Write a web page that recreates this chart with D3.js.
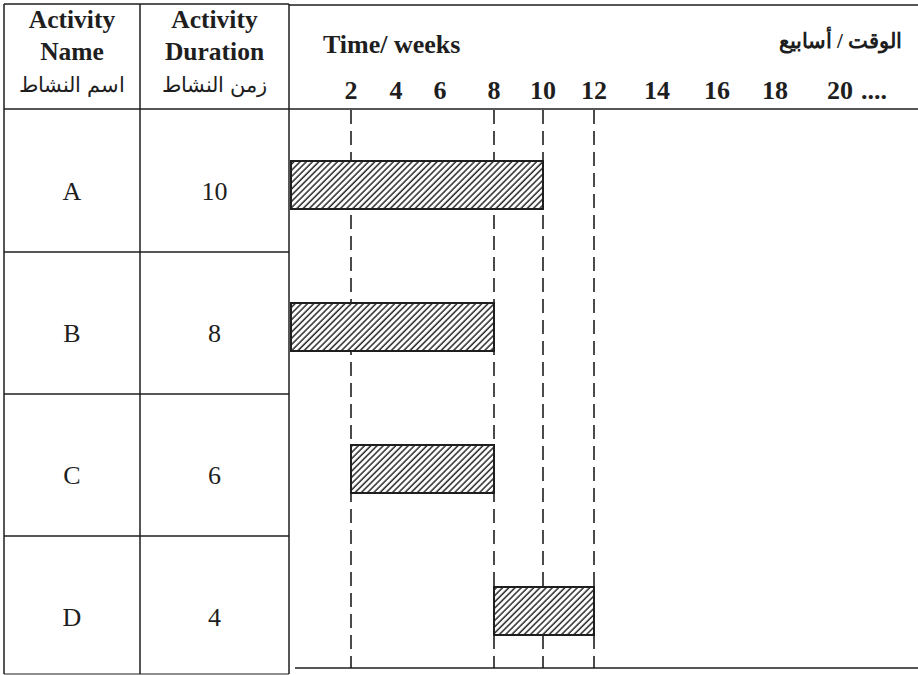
<!DOCTYPE html>
<html><head><meta charset="utf-8">
<script src="https://cdn.jsdelivr.net/npm/d3@7"></script>
<style>body{margin:0;background:#fff} svg{display:block}</style>
</head><body><svg id="c" width="918" height="675"></svg>
<script>
// ---- data ----
const activities = ["A", "B", "C", "D"];
const durations = [10, 8, 6, 4];
const starts = [0, 0, 2, 8];
const tickValues = [2, 4, 6, 8, 10, 12, 14, 16, 18, 20];
const tickLabels = ["2", "4", "6", "8", "10", "12", "14", "16", "18", "20"];
const tickSuffix = "....";
const milestones = [2, 8, 10, 12];
const headerName = ["Activity", "Name", "اسم النشاط"];
const headerDuration = ["Activity", "Duration", "زمن النشاط"];
const titleEn = "Time/ weeks";
const titleAr = "الوقت / أسابيع";

// ---- layout ----
const svg = d3.select("#c");
const ink = "#1e1e1e";
const serif = "'Liberation Serif','Times New Roman','DejaVu Serif',serif";
const tableL = 4, colDiv = 140, tableR = 289, chartL = 291, chartR = 918;
const topY = 4, headB = 109, chartBottom = 668, tableBottom = 674;

// hand-drawn week axis (polylinear)
const x = d3.scaleLinear()
  .domain([0, 2, 4, 6, 8, 10, 12, 14, 16, 18, 20])
  .range([chartL, 351, 396, 440, 494, 543, 594, 657, 717, 775, 840]);
const y = d3.scaleBand().domain(activities).range([headB + 1, 678]);

// hatch pattern
const defs = svg.append("defs");
const pat = defs.append("pattern").attr("id", "hatch")
  .attr("patternUnits", "userSpaceOnUse").attr("width", 4.4).attr("height", 4.4)
  .attr("patternTransform", "rotate(45)");
pat.append("rect").attr("width", 4.4).attr("height", 4.4).attr("fill", "#fff");
pat.append("line").attr("x1", 1).attr("y1", 0).attr("x2", 1).attr("y2", 4.4)
  .attr("stroke", "#2a2a2a").attr("stroke-width", 1.5);

// ---- table grid ----
const g = svg.append("g").attr("stroke", ink).attr("fill", "none");
g.append("line").attr("x1", tableL).attr("x2", tableR).attr("y1", topY).attr("y2", topY).attr("stroke-width", 1.6);
g.append("line").attr("x1", tableR).attr("x2", chartR).attr("y1", topY + 1).attr("y2", topY + 1).attr("stroke-width", 1.6);
g.append("line").attr("x1", tableL).attr("x2", chartR).attr("y1", headB).attr("y2", headB).attr("stroke-width", 1.6);
[tableL, colDiv, tableR].forEach(v =>
  g.append("line").attr("x1", v).attr("x2", v).attr("y1", topY).attr("y2", tableBottom).attr("stroke-width", 1.5));
activities.slice(1).forEach(a =>
  g.append("line").attr("x1", tableL).attr("x2", tableR).attr("y1", y(a)).attr("y2", y(a)).attr("stroke-width", 1.4));
g.append("line").attr("x1", tableL).attr("x2", tableR).attr("y1", tableBottom).attr("y2", tableBottom).attr("stroke-width", 1.2);
g.append("line").attr("x1", 295).attr("x2", chartR).attr("y1", chartBottom).attr("y2", chartBottom).attr("stroke-width", 1.6);

// ---- table header ----
const col1 = (tableL + colDiv) / 2, col2 = (colDiv + tableR) / 2;
[[col1, headerName], [col2, headerDuration]].forEach(([cx, lines]) => {
  lines.forEach((t, i) => {
    svg.append("text").attr("x", cx).attr("y", 28 + i * 32)
      .attr("text-anchor", "middle").attr("fill", ink)
      .attr("font-family", serif)
      .attr("font-weight", i < 2 ? "bold" : "normal")
      .attr("font-size", i < 2 ? 25.5 : 21)
      .text(t);
  });
});

// ---- table rows ----
activities.forEach((a, i) => {
  const cy = y(a) + y.bandwidth() / 2 + 19;
  svg.append("text").attr("x", col1).attr("y", cy).attr("text-anchor", "middle")
    .attr("font-family", serif).attr("font-size", 26).attr("fill", ink).text(a);
  svg.append("text").attr("x", col2).attr("y", cy).attr("text-anchor", "middle")
    .attr("font-family", serif).attr("font-size", 26).attr("fill", ink).text(durations[i]);
});

// ---- chart header ----
svg.append("text").attr("x", 323).attr("y", 53).attr("font-family", serif)
  .attr("font-weight", "bold").attr("font-size", 26).attr("fill", ink).text(titleEn);
svg.append("text").attr("x", 902).attr("y", 48).attr("text-anchor", "end").attr("font-family", serif)
  .attr("font-weight", "bold").attr("font-size", 21).attr("fill", ink).text(titleAr);

tickValues.forEach((v, i) => {
  svg.append("text").attr("x", x(v)).attr("y", 99).attr("text-anchor", "middle")
    .attr("font-family", serif).attr("font-weight", "bold").attr("font-size", 26)
    .attr("fill", ink).text(tickLabels[i]);
});
svg.append("text").attr("x", x(20) + 21).attr("y", 99)
  .attr("font-family", serif).attr("font-weight", "bold").attr("font-size", 26)
  .attr("fill", ink).text(tickSuffix);

// ---- milestone dashed lines ----
svg.append("g").selectAll("line").data(milestones).join("line")
  .attr("x1", d => x(d)).attr("x2", d => x(d))
  .attr("y1", headB + 1).attr("y2", chartBottom)
  .attr("stroke", ink).attr("stroke-width", 1.6).attr("stroke-dasharray", "14,7");

// ---- bars ----
const barH = 48;
svg.append("g").selectAll("rect").data(activities).join("rect")
  .attr("x", (d, i) => x(starts[i]))
  .attr("width", (d, i) => x(starts[i] + durations[i]) - x(starts[i]))
  .attr("y", d => y(d) + 51)
  .attr("height", barH)
  .attr("fill", "url(#hatch)")
  .attr("stroke", ink).attr("stroke-width", 2);
</script></body></html>
